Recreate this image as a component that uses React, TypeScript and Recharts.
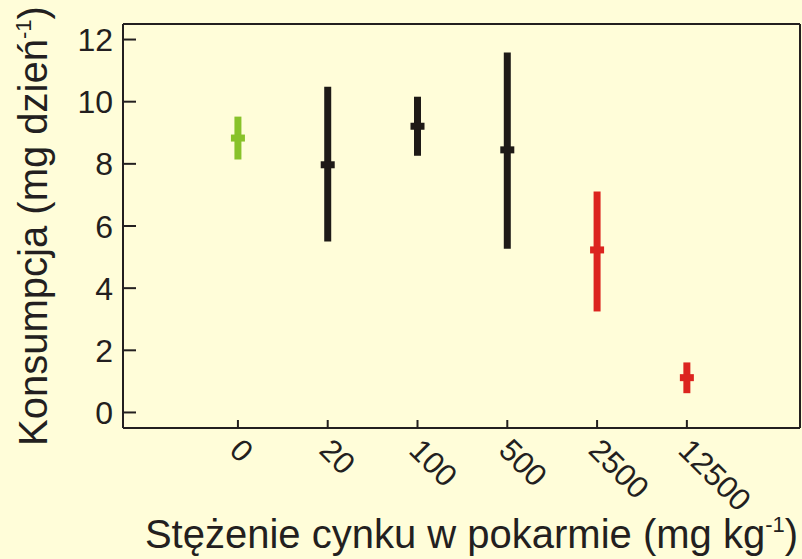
import { ComposedChart, ErrorBar, Scatter, XAxis, YAxis } from "recharts";

const categories = ["0", "20", "100", "500", "2500", "12500"];
const means = [8.83, 7.97, 9.21, 8.45, 5.23, 1.12];
const lows = [8.14, 5.5, 8.26, 5.27, 3.25, 0.62];
const highs = [9.52, 10.48, 10.16, 11.58, 7.11, 1.61];
const groups = ["control", "mid", "mid", "mid", "high", "high"];
const yTicks = [0, 2, 4, 6, 8, 10, 12];

const groupColors: Record<string, string> = {
  control: "#88C22A",
  mid: "#1E1A17",
  high: "#DC241F",
};

const ink = "#231F20";
const font = "'Liberation Sans', Arial, sans-serif";
const xDomain = [-1.28, 6.26];

const rows = categories.map((c, i) => ({
  x: i,
  name: c,
  group: groups[i],
  mean: means[i],
  err: [means[i] - lows[i], highs[i] - means[i]],
}));

const xIdx = categories.map((_, i) => i);

function CrossBar(props: any) {
  const { cx, cy, fill } = props;
  if (cx == null || cy == null) return null;
  return <rect x={cx - 7} y={cy - 3.5} width={14} height={7} fill={fill} />;
}

function LeftTick({ x, y, payload }: any) {
  return (
    <g>
      <line x1={x} x2={x + 13} y1={y} y2={y} stroke={ink} strokeWidth={2} />
      <text x={x - 10} y={y} dy="0.36em" textAnchor="end" fontSize={32} fill={ink} fontFamily={font}>
        {payload.value}
      </text>
    </g>
  );
}

function RightTick({ x, y }: any) {
  return <line x1={x} x2={x - 11} y1={y} y2={y} stroke={ink} strokeWidth={2} />;
}

function BottomTick({ x, y, payload }: any) {
  const tx = x - 10;
  const ty = y + 24;
  return (
    <g>
      <line x1={x} x2={x} y1={y} y2={y - 8} stroke={ink} strokeWidth={2} />
      <text x={tx} y={ty} transform={`rotate(45 ${tx} ${ty})`} textAnchor="start" fontSize={31} fill={ink} fontFamily={font}>
        {categories[payload.value]}
      </text>
    </g>
  );
}

function TopTick({ x, y }: any) {
  return <line x1={x} x2={x} y1={y} y2={y + 9} stroke={ink} strokeWidth={2} />;
}

function XTitle({ viewBox }: any) {
  const cx = viewBox.x + viewBox.width / 2 + 10;
  return (
    <text x={cx} y={viewBox.y + 120} textAnchor="middle" fontSize={40} fill={ink} fontFamily={font}>
      Stężenie cynku w pokarmie (mg kg
      <tspan dy={-16} fontSize={22}>-1</tspan>
      <tspan dy={16} fontSize={40}>)</tspan>
    </text>
  );
}

function YTitle({ viewBox }: any) {
  const cy = viewBox.y + viewBox.height / 2;
  return (
    <text transform={`translate(47 ${cy}) rotate(-90)`} textAnchor="middle" fontSize={40} fill={ink} fontFamily={font}>
      Konsumpcja (mg dzień
      <tspan dy={-16} fontSize={22}>-1</tspan>
      <tspan dy={16} fontSize={40}>)</tspan>
    </text>
  );
}

export default function App() {
  const series = ["control", "mid", "high"];
  return (
    <div style={{ position: "absolute", left: 0, top: 0, width: 802, height: 559, background: "#FFFDD9" }}>
      <ComposedChart width={802} height={559} margin={{ top: 0, right: 1, bottom: 0, left: 0 }}>
        <XAxis
          dataKey="x"
          type="number"
          domain={xDomain}
          ticks={xIdx}
          height={131}
          tickSize={0}
          tickMargin={0}
          tick={<BottomTick />}
          axisLine={{ stroke: ink, strokeWidth: 2 }}
          label={{ content: XTitle }}
          interval={0}
        />
        <XAxis
          xAxisId="top"
          orientation="top"
          type="number"
          domain={xDomain}
          ticks={xIdx}
          height={24}
          tickSize={0}
          tickMargin={0}
          tick={<TopTick />}
          axisLine={{ stroke: ink, strokeWidth: 2 }}
          interval={0}
        />
        <YAxis
          type="number"
          domain={[-0.5, 12.5]}
          ticks={yTicks}
          width={123}
          tickSize={0}
          tickMargin={0}
          tick={<LeftTick />}
          axisLine={{ stroke: ink, strokeWidth: 2 }}
          label={{ content: YTitle }}
          interval={0}
        />
        <YAxis
          yAxisId="right"
          orientation="right"
          type="number"
          domain={[-0.5, 12.5]}
          ticks={yTicks}
          width={1}
          tickSize={0}
          tickMargin={0}
          tick={<RightTick />}
          axisLine={{ stroke: ink, strokeWidth: 2 }}
          interval={0}
        />
        {series.map((g) => (
          <Scatter
            key={g}
            data={rows.filter((r) => r.group === g)}
            dataKey="mean"
            fill={groupColors[g]}
            shape={<CrossBar />}
            isAnimationActive={false}
          >
            <ErrorBar
              dataKey="err"
              direction="y"
              width={0}
              strokeWidth={7}
              stroke={groupColors[g]}
              isAnimationActive={false}
            />
          </Scatter>
        ))}
      </ComposedChart>
    </div>
  );
}
